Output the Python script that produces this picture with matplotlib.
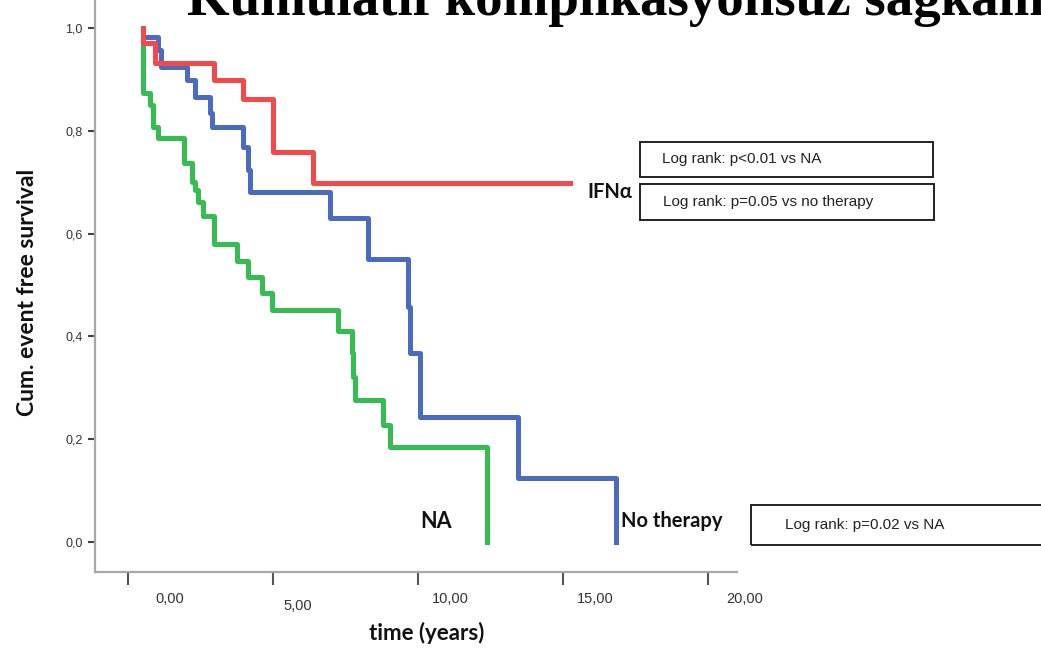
import matplotlib
matplotlib.use("Agg")
import matplotlib.pyplot as plt
from matplotlib.patches import Rectangle

# Kaplan-Meier step data (time in years, cumulative survival)
ifn_time = [0.52, 0.52, 0.93, 2.97, 3.97, 5.00, 6.38, 15.24]
ifn_surv = [1.0, 0.971, 0.932, 0.899, 0.862, 0.759, 0.698, 0.698]

none_time = [0.52, 0.52, 1.03, 1.14, 2.03, 2.31, 2.83, 2.90, 3.97, 4.14, 4.21,
             6.97, 8.28, 9.66, 9.72, 10.07, 13.45, 16.83]
none_surv = [1.0, 0.982, 0.957, 0.924, 0.899, 0.866, 0.835, 0.807, 0.768, 0.724,
             0.681, 0.630, 0.551, 0.457, 0.368, 0.243, 0.125, 0.0]

na_time = [0.52, 0.52, 0.76, 0.86, 1.03, 1.93, 2.21, 2.31, 2.41, 2.59, 2.97, 3.76,
           4.14, 4.62, 4.97, 7.24, 7.72, 7.76, 7.83, 8.79, 9.03, 12.38]
na_surv = [1.0, 0.874, 0.850, 0.807, 0.786, 0.737, 0.700, 0.685, 0.661, 0.634, 0.580,
           0.547, 0.516, 0.484, 0.451, 0.410, 0.368, 0.321, 0.276, 0.228, 0.185, 0.0]

x_ticks = [0, 5, 10, 15, 20]
x_tick_labels = ["0,00", "5,00", "10,00", "15,00", "20,00"]
y_ticks = [0.0, 0.2, 0.4, 0.6, 0.8, 1.0]
y_tick_labels = ["0,0", "0,2", "0,4", "0,6", "0,8", "1,0"]

title = "Kümülatif komplikasyonsuz sağkalım"
logrank_notes = [
    "Log rank: p<0.01 vs NA",
    "Log rank: p=0.05 vs no therapy",
    "Log rank: p=0.02 vs NA",
]

W, H = 1041, 652


def fx(px):
    return px / W


def fy(py):
    return 1 - py / H


fig = plt.figure(figsize=(W / 100, H / 100), dpi=100)
ax = fig.add_axes([fx(95), fy(572), fx(737) - fx(95), fy(0) - fy(572)])

ax.plot(na_time, na_surv, drawstyle="steps-post", color="#34BE52", lw=3.6)
ax.plot(none_time, none_surv, drawstyle="steps-post", color="#4A6BBF", lw=3.6)
ax.plot(ifn_time, ifn_surv, drawstyle="steps-post", color="#F24A4A", lw=3.6)

ax.set_xlim(-1.138, 21.0)
ax.set_ylim(-0.0584, 1.0545)

for side in ["top", "right"]:
    ax.spines[side].set_visible(False)
for side in ["left", "bottom"]:
    ax.spines[side].set_color("#a8a8a8")
    ax.spines[side].set_linewidth(1.6)

ax.set_yticks(y_ticks)
ax.set_yticklabels(y_tick_labels, fontsize=9, family="Liberation Sans", color="#333333")
ax.tick_params(axis="y", length=5, width=1.5, color="#444444", pad=4)

ax.set_xticks(x_ticks)
ax.set_xticklabels([])
ax.tick_params(axis="x", length=9, width=1.5, color="#555555")

# tick labels sit shifted off their ticks in the original figure
label_dx = [42, 25, 32, 32, 37]
label_dy = [-27, -34, -27, -27, -27]
for v, t, dx, dy in zip(x_ticks, x_tick_labels, label_dx, label_dy):
    ax.annotate(t, xy=(v, 0), xycoords=("data", "axes fraction"),
                xytext=(dx, dy), textcoords="offset pixels",
                ha="center", va="center", fontsize=10.5,
                family="Liberation Sans", color="#333333")

bold = dict(family="Lato", fontweight="bold", color="#111111")
fig.text(fx(28), fy(292), "Cum. event free survival", rotation=90,
         ha="center", va="center", fontsize=16.5, **bold)
fig.text(fx(427), fy(633), "time (years)", ha="center", va="center",
         fontsize=16, **bold)

fig.text(fx(587), fy(192), "IFNα", ha="left", va="center", fontsize=14.5, **bold)
fig.text(fx(420), fy(521), "NA", ha="left", va="center", fontsize=15.5, **bold)
fig.text(fx(621), fy(521), "No therapy", ha="left", va="center", fontsize=14.5, **bold)

# the headline is cropped at the top edge in the source figure
fig.text(fx(187), fy(15), title, ha="left", va="baseline", fontsize=39.5,
         family="Liberation Serif", fontweight="bold", color="black")

# log rank boxes: (left, top, right, bottom) in pixels
boxes = [(640, 142, 933, 177), (640, 184, 934, 220), (751, 505, 1046, 545)]
text_x = [662, 663, 785]
for (l, t, r, b), tx, note in zip(boxes, text_x, logrank_notes):
    fig.add_artist(Rectangle((fx(l), fy(b)), fx(r) - fx(l), fy(t) - fy(b),
                             transform=fig.transFigure, fill=False,
                             edgecolor="#222222", lw=1.4))
    fig.text(fx(tx), fy((t + b) / 2), note, ha="left", va="center",
             fontsize=11, family="Liberation Sans", color="#222222")

fig.savefig("out.png", dpi=100)
